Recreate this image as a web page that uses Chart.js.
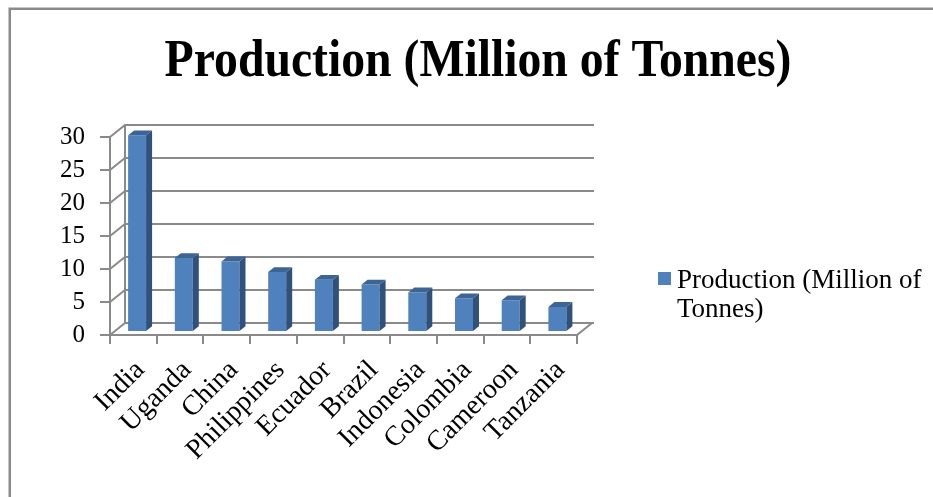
<!DOCTYPE html>
<html>
<head>
<meta charset="utf-8">
<title>Production (Million of Tonnes)</title>
<script src="https://cdn.jsdelivr.net/npm/chart.js@4.4.1/dist/chart.umd.min.js"></script>
<style>
  html, body { margin: 0; padding: 0; background: #fff; }
  canvas { display: block; }
</style>
</head>
<body>
<canvas id="productionChart" width="933" height="497"></canvas>
<script>
const chartTitle = 'Production (Million of Tonnes)';
const seriesLabel = 'Production (Million of Tonnes)';
const countries = ['India', 'Uganda', 'China', 'Philippines', 'Ecuador', 'Brazil', 'Indonesia', 'Colombia', 'Cameroon', 'Tanzania'];
const production = [29.8, 11.2, 10.7, 9.1, 7.9, 7.2, 6.0, 5.1, 4.8, 3.8];
const yTicks = [0, 5, 10, 15, 20, 25, 30];

const serif = "'Liberation Serif', 'Times New Roman', serif";
const gridColor = '#8a8a8a';
const frontColor = '#4f81bd';
const sideColor = '#30517b';
const topColor = '#3c6494';

// depth of the plot box behind the front plane, and where the bars sit in it
const depthX = 15, depthY = -12;
const barFront = 0.25, barBack = 0.65;

Chart.defaults.font.family = serif;
Chart.defaults.color = '#000';

const box3d = {
  id: 'box3d',
  beforeDraw(chart) {
    const ctx = chart.ctx;
    ctx.save();
    ctx.fillStyle = '#fff';
    ctx.fillRect(0, 0, chart.width, chart.height);
    ctx.strokeStyle = '#8a8a8a';
    ctx.lineWidth = 2.5;
    ctx.strokeRect(9.75, 8.75, chart.width + 50, chart.height + 50);
    ctx.restore();
  },
  beforeDatasetsDraw(chart) {
    const { ctx, chartArea: a, scales: { y } } = chart;
    ctx.save();
    ctx.strokeStyle = gridColor;
    ctx.lineWidth = 2;
    ctx.beginPath();
    yTicks.forEach(v => {
      const py = y.getPixelForValue(v);
      ctx.moveTo(a.left, py);
      ctx.lineTo(a.left + depthX, py + depthY);
      ctx.lineTo(a.right + depthX + 2, py + depthY);
    });
    ctx.moveTo(a.left + depthX, a.top + depthY);
    ctx.lineTo(a.left + depthX, a.bottom + depthY);
    ctx.moveTo(a.right, a.bottom);
    ctx.lineTo(a.right + depthX, a.bottom + depthY);
    ctx.stroke();
    ctx.restore();
    // front faces come from chart.js, pushed back into the box
    ctx.save();
    ctx.translate(depthX * barFront, depthY * barFront);
  },
  afterDatasetsDraw(chart) {
    const ctx = chart.ctx;
    ctx.restore();
    const ox = depthX * barFront, oy = depthY * barFront;
    const dx = depthX * (barBack - barFront), dy = depthY * (barBack - barFront);
    chart.getDatasetMeta(0).data.forEach(bar => {
      const { x, y, base, width } = bar.getProps(['x', 'y', 'base', 'width'], true);
      const l = x - width / 2 + ox, r = x + width / 2 + ox;
      const t = y + oy, b = base + oy;
      ctx.fillStyle = sideColor;
      ctx.beginPath();
      ctx.moveTo(r, t);
      ctx.lineTo(r + dx, t + dy);
      ctx.lineTo(r + dx, b + dy);
      ctx.lineTo(r, b);
      ctx.closePath();
      ctx.fill();
      ctx.fillStyle = topColor;
      ctx.beginPath();
      ctx.moveTo(l, t);
      ctx.lineTo(l + dx, t + dy);
      ctx.lineTo(r + dx, t + dy);
      ctx.lineTo(r, t);
      ctx.closePath();
      ctx.fill();
    });
  },
  afterDraw(chart) {
    const ctx = chart.ctx;
    ctx.save();
    // title, a little narrower than the plain bold face
    ctx.fillStyle = '#000';
    ctx.font = `bold 53px ${serif}`;
    ctx.textAlign = 'center';
    ctx.textBaseline = 'alphabetic';
    ctx.translate(478, 76);
    ctx.scale(0.9, 1);
    ctx.fillText(chartTitle, 0, 0);
    ctx.restore();

    // legend with the label wrapped onto two lines
    const ds = chart.data.datasets[0];
    ctx.save();
    ctx.fillStyle = ds.backgroundColor;
    ctx.fillRect(658, 272, 13, 13);
    ctx.fillStyle = '#000';
    ctx.font = `27px ${serif}`;
    ctx.textAlign = 'left';
    const lines = [];
    let line = '';
    ds.label.split(' ').forEach(word => {
      const test = line ? line + ' ' + word : word;
      if (line && ctx.measureText(test).width > 252) {
        lines.push(line);
        line = word;
      } else {
        line = test;
      }
    });
    lines.push(line);
    lines.forEach((txt, i) => ctx.fillText(txt, 677, 288 + i * 29));
    ctx.restore();
  }
};

new Chart(document.getElementById('productionChart'), {
  type: 'bar',
  data: {
    labels: countries,
    datasets: [{
      label: seriesLabel,
      data: production,
      backgroundColor: frontColor,
      borderWidth: 0,
      categoryPercentage: 1,
      barPercentage: 0.385
    }]
  },
  options: {
    responsive: false,
    animation: false,
    devicePixelRatio: 1,
    layout: { padding: { left: 30, top: 137, right: 356, bottom: 32 } },
    plugins: {
      legend: { display: false },
      title: { display: false },
      tooltip: { enabled: false }
    },
    scales: {
      x: {
        afterFit(scale) { scale.height = 130; },
        border: { display: true, color: gridColor, width: 2 },
        grid: { offset: true, drawOnChartArea: false, drawTicks: true, tickLength: 9, color: gridColor, lineWidth: 2 },
        ticks: { autoSkip: false, minRotation: 45, maxRotation: 45, padding: 10, labelOffset: 7, font: { size: 28 } }
      },
      y: {
        min: 0,
        max: 30,
        afterFit(scale) { scale.width = 80; },
        afterBuildTicks(scale) { scale.ticks = yTicks.map(v => ({ value: v })); },
        border: { display: true, color: gridColor, width: 2 },
        grid: { drawOnChartArea: false, drawTicks: true, tickLength: 10, color: gridColor, lineWidth: 2 },
        ticks: { padding: 15, font: { size: 25 } }
      }
    }
  },
  plugins: [box3d]
});
</script>
</body>
</html>
